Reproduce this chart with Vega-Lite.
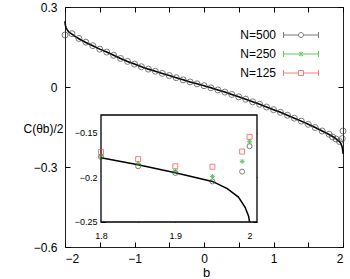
{
  "$schema": "https://vega.github.io/schema/vega-lite/v6.json",
  "width": 278,
  "height": 240,
  "autosize": {"type": "none"},
  "padding": {"left": 65, "top": 7, "right": 7, "bottom": 32},
  "config": {
    "font": "Liberation Sans",
    "view": {"stroke": "#222", "strokeWidth": 1},
    "axis": {"grid": false, "domain": false, "labelFont": "Liberation Sans", "labelColor": "#000", "tickColor": "#000", "titleFont": "Liberation Sans", "titleFontWeight": "normal", "titleColor": "#000"}
  },
  "datasets": {
    "curve": [
      {"b": -2.0, "c": 0.247}, {"b": -1.9987, "c": 0.240}, {"b": -1.994, "c": 0.231}, {"b": -1.985, "c": 0.223},
      {"b": -1.97, "c": 0.215}, {"b": -1.95, "c": 0.207}, {"b": -1.9, "c": 0.198}, {"b": -1.85, "c": 0.189},
      {"b": -1.8, "c": 0.181}, {"b": -1.7, "c": 0.167}, {"b": -1.6, "c": 0.155}, {"b": -1.5, "c": 0.142},
      {"b": -1.4, "c": 0.131}, {"b": -1.3, "c": 0.119}, {"b": -1.2, "c": 0.107}, {"b": -1.1, "c": 0.096},
      {"b": -1.0, "c": 0.086}, {"b": -0.9, "c": 0.076}, {"b": -0.8, "c": 0.067}, {"b": -0.7, "c": 0.059},
      {"b": -0.6, "c": 0.051}, {"b": -0.5, "c": 0.043}, {"b": -0.4, "c": 0.035}, {"b": -0.3, "c": 0.027},
      {"b": -0.2, "c": 0.019}, {"b": -0.1, "c": 0.012}, {"b": 0.0, "c": 0.005}, {"b": 0.1, "c": -0.003},
      {"b": 0.2, "c": -0.011}, {"b": 0.3, "c": -0.019}, {"b": 0.4, "c": -0.028}, {"b": 0.5, "c": -0.037},
      {"b": 0.6, "c": -0.046}, {"b": 0.7, "c": -0.0555}, {"b": 0.8, "c": -0.065}, {"b": 0.9, "c": -0.075},
      {"b": 1.0, "c": -0.085}, {"b": 1.1, "c": -0.095}, {"b": 1.2, "c": -0.106}, {"b": 1.3, "c": -0.117},
      {"b": 1.4, "c": -0.128}, {"b": 1.5, "c": -0.140}, {"b": 1.6, "c": -0.152}, {"b": 1.7, "c": -0.165},
      {"b": 1.8, "c": -0.178}, {"b": 1.85, "c": -0.1858}, {"b": 1.9, "c": -0.1948}, {"b": 1.95, "c": -0.2045},
      {"b": 1.97, "c": -0.2125}, {"b": 1.985, "c": -0.222}, {"b": 1.994, "c": -0.2335}, {"b": 1.9987, "c": -0.2435},
      {"b": 2.0, "c": -0.25}
    ],
    "sim": [
      {"series": "N=500", "b": -2.0, "c": 0.195}, {"series": "N=500", "b": -1.9, "c": 0.200},
      {"series": "N=500", "b": -1.8, "c": 0.182}, {"series": "N=500", "b": -1.7, "c": 0.168},
      {"series": "N=500", "b": -1.6, "c": 0.155}, {"series": "N=500", "b": -1.5, "c": 0.142},
      {"series": "N=500", "b": -1.4, "c": 0.131}, {"series": "N=500", "b": -1.3, "c": 0.119},
      {"series": "N=500", "b": -1.2, "c": 0.107}, {"series": "N=500", "b": -1.1, "c": 0.096},
      {"series": "N=500", "b": -1.0, "c": 0.086}, {"series": "N=500", "b": -0.9, "c": 0.076},
      {"series": "N=500", "b": -0.8, "c": 0.067}, {"series": "N=500", "b": -0.7, "c": 0.059},
      {"series": "N=500", "b": -0.6, "c": 0.051}, {"series": "N=500", "b": -0.5, "c": 0.043},
      {"series": "N=500", "b": -0.4, "c": 0.035}, {"series": "N=500", "b": -0.3, "c": 0.027},
      {"series": "N=500", "b": -0.2, "c": 0.019}, {"series": "N=500", "b": -0.1, "c": 0.012},
      {"series": "N=500", "b": 0.0, "c": 0.005}, {"series": "N=500", "b": 0.1, "c": -0.003},
      {"series": "N=500", "b": 0.2, "c": -0.011}, {"series": "N=500", "b": 0.3, "c": -0.019},
      {"series": "N=500", "b": 0.4, "c": -0.028}, {"series": "N=500", "b": 0.5, "c": -0.037},
      {"series": "N=500", "b": 0.6, "c": -0.046}, {"series": "N=500", "b": 0.7, "c": -0.0555},
      {"series": "N=500", "b": 0.8, "c": -0.065}, {"series": "N=500", "b": 0.9, "c": -0.075},
      {"series": "N=500", "b": 1.0, "c": -0.085}, {"series": "N=500", "b": 1.1, "c": -0.095},
      {"series": "N=500", "b": 1.2, "c": -0.106}, {"series": "N=500", "b": 1.3, "c": -0.117},
      {"series": "N=500", "b": 1.4, "c": -0.128}, {"series": "N=500", "b": 1.5, "c": -0.140},
      {"series": "N=500", "b": 1.6, "c": -0.152}, {"series": "N=500", "b": 1.7, "c": -0.165},
      {"series": "N=500", "b": 1.8, "c": -0.177}, {"series": "N=500", "b": 1.85, "c": -0.1875},
      {"series": "N=500", "b": 1.9, "c": -0.195}, {"series": "N=500", "b": 1.95, "c": -0.2045},
      {"series": "N=500", "b": 1.99, "c": -0.1935}, {"series": "N=500", "b": 2.0, "c": -0.165},
      {"series": "N=250", "b": 1.8, "c": -0.176}, {"series": "N=250", "b": 1.85, "c": -0.1844},
      {"series": "N=250", "b": 1.9, "c": -0.193}, {"series": "N=250", "b": 1.95, "c": -0.1989},
      {"series": "N=250", "b": 1.99, "c": -0.182}, {"series": "N=250", "b": 2.0, "c": -0.160},
      {"series": "N=125", "b": 1.8, "c": -0.1716}, {"series": "N=125", "b": 1.85, "c": -0.1795},
      {"series": "N=125", "b": 1.9, "c": -0.1875}, {"series": "N=125", "b": 1.95, "c": -0.188},
      {"series": "N=125", "b": 1.99, "c": -0.171}, {"series": "N=125", "b": 2.0, "c": -0.1545}
    ]
  },
  "layer": [
    {
      "layer": [
        {
          "data": {"name": "curve"},
          "mark": {"type": "line", "color": "#000", "strokeWidth": 1.6},
          "encoding": {
            "x": {"field": "b", "type": "quantitative", "scale": {"domain": [-2, 2], "nice": false, "zero": false},
              "axis": {"orient": "bottom", "values": [-2, -1.5, -1, -0.5, 0, 0.5, 1, 1.5, 2], "labelExpr": "datum.value % 1 == 0 ? format(datum.value, 'd') : ''", "tickSize": -5, "labelPadding": 11, "labelFontSize": 12, "title": "b", "titleFontSize": 13, "titleX": 141, "titleY": 29, "titleBaseline": "alphabetic", "titleAnchor": null}},
            "y": {"field": "c", "type": "quantitative", "scale": {"domain": [-0.6, 0.3], "nice": false, "zero": false},
              "axis": {"orient": "left", "values": [-0.6, -0.3, 0, 0.3], "labelExpr": "datum.value == 0 ? '0' : format(datum.value, '.1f')", "tickSize": -5, "labelPadding": 13, "labelFontSize": 12, "title": "C(θb)/2", "titleFontSize": 12, "titleAngle": 0, "titleAlign": "right", "titleBaseline": "middle", "titleX": -2, "titleY": 121}}
          }
        },
        {
          "data": {"name": "sim"},
          "transform": [{"filter": "datum.series == 'N=500'"}],
          "mark": {"type": "point", "shape": "circle", "filled": false, "color": "#444", "strokeWidth": 1, "size": 36},
          "encoding": {
            "x": {"field": "b", "type": "quantitative", "scale": {"domain": [-2, 2], "nice": false, "zero": false},
              "axis": {"orient": "top", "values": [-2, -1.5, -1, -0.5, 0, 0.5, 1, 1.5, 2], "labels": false, "tickSize": -5, "title": null}},
            "y": {"field": "c", "type": "quantitative", "scale": {"domain": [-0.6, 0.3], "nice": false, "zero": false},
              "axis": {"orient": "right", "values": [-0.6, -0.3, 0, 0.3], "labels": false, "tickSize": -5, "title": null}}
          }
        },
        {
          "data": {"name": "sim"},
          "transform": [{"filter": "datum.b > 10"}],
          "mark": {"type": "point", "filled": false, "strokeWidth": 1},
          "encoding": {
            "x": {"field": "b", "type": "quantitative", "scale": {"domain": [-2, 2], "nice": false, "zero": false}, "axis": null},
            "y": {"field": "c", "type": "quantitative", "scale": {"domain": [-0.6, 0.3], "nice": false, "zero": false}, "axis": null},
            "color": {"field": "series", "type": "nominal",
              "scale": {"domain": ["N=500", "N=250", "N=125"], "range": ["#444444", "#22b022", "#f04848"]},
              "legend": {"title": null, "orient": "none", "legendX": 230, "legendY": 22, "symbolSize": 100, "symbolStrokeWidth": 1, "labelAlign": "right", "labelOffset": -31, "labelFontSize": 12, "labelFont": "Liberation Sans", "labelColor": "#000", "rowPadding": 7, "padding": 0}},
            "shape": {"field": "series", "type": "nominal",
              "scale": {"domain": ["N=500", "N=250", "N=125"], "range": [
                "M-3.5,0H-0.5M0.5,0H3.5M-3.5,-0.6V0.6M3.5,-0.6V0.6M-0.5,0A0.5,0.5,0,1,0,0.5,0A0.5,0.5,0,1,0,-0.5,0",
                "M-3.5,0H3.5M-3.5,-0.6V0.6M3.5,-0.6V0.6M0,-0.5V0.5M-0.4,-0.4L0.4,0.4M-0.4,0.4L0.4,-0.4",
                "M-3.5,0H-0.5M0.5,0H3.5M-3.5,-0.6V0.6M3.5,-0.6V0.6M-0.5,-0.5H0.5V0.5H-0.5Z"]},
              "legend": {"title": null, "orient": "none", "legendX": 230, "legendY": 22, "symbolSize": 100, "symbolStrokeWidth": 1, "labelAlign": "right", "labelOffset": -31, "labelFontSize": 12, "labelFont": "Liberation Sans", "labelColor": "#000", "rowPadding": 7, "padding": 0}}
          }
        }
      ],
      "resolve": {"axis": {"x": "independent", "y": "independent"}}
    },
    {
      "layer": [
        {
          "data": {"values": [{}]},
          "mark": {"type": "rect", "fill": "#fff", "stroke": "#000", "strokeWidth": 1.3},
          "encoding": {
            "x": {"datum": 1.8, "type": "quantitative", "scale": {"domain": [1.75154, 2.12577], "nice": false, "zero": false},
              "axis": {"orient": "bottom", "offset": -25, "values": [1.8, 1.85, 1.9, 1.95, 2], "labelExpr": "datum.value == 2 ? '2' : (round(datum.value * 100) % 10 == 0 ? format(datum.value, '.1f') : '')", "tickSize": -4, "labelPadding": 13, "labelFontSize": 9, "title": null}},
            "x2": {"datum": 2.01},
            "y": {"datum": -0.25, "type": "quantitative", "scale": {"domain": [-0.27804, -0.00888], "nice": false, "zero": false},
              "axis": {"orient": "left", "offset": -36, "values": [-0.25, -0.2, -0.15], "labelExpr": "format(datum.value, '.2~f')", "tickSize": -4, "labelPadding": 8, "labelFontSize": 9, "title": null}},
            "y2": {"datum": -0.13}
          }
        },
        {
          "data": {"name": "curve"},
          "transform": [{"filter": "datum.b >= 1.8"}],
          "mark": {"type": "line", "color": "#000", "strokeWidth": 1.5},
          "encoding": {
            "x": {"field": "b", "type": "quantitative", "scale": {"domain": [1.75154, 2.12577], "nice": false, "zero": false},
              "axis": {"orient": "top", "offset": -108, "values": [1.8, 1.85, 1.9, 1.95, 2], "labels": false, "tickSize": -4, "title": null}},
            "y": {"field": "c", "type": "quantitative", "scale": {"domain": [-0.27804, -0.00888], "nice": false, "zero": false},
              "axis": {"orient": "right", "offset": -86, "values": [-0.25, -0.2, -0.15], "labels": false, "tickSize": -4, "title": null}}
          }
        },
        {
          "data": {"name": "sim"},
          "transform": [{"filter": "datum.b >= 1.8"}],
          "mark": {"type": "point", "filled": false, "strokeWidth": 1, "size": 25},
          "encoding": {
            "x": {"field": "b", "type": "quantitative", "scale": {"domain": [1.75154, 2.12577], "nice": false, "zero": false}, "axis": null},
            "y": {"field": "c", "type": "quantitative", "scale": {"domain": [-0.27804, -0.00888], "nice": false, "zero": false}, "axis": null},
            "color": {"field": "series", "type": "nominal",
              "scale": {"domain": ["N=500", "N=250", "N=125"], "range": ["#444444", "#22b022", "#f04848"]}, "legend": null},
            "shape": {"field": "series", "type": "nominal",
              "scale": {"domain": ["N=500", "N=250", "N=125"], "range": ["circle", "M-1,0H1M0,-1V1M-0.7,-0.7L0.7,0.7M-0.7,0.7L0.7,-0.7", "square"]}, "legend": null}
          }
        }
      ],
      "resolve": {"axis": {"x": "independent", "y": "independent"}}
    }
  ],
  "resolve": {
    "scale": {"x": "independent", "y": "independent", "color": "independent", "shape": "independent"},
    "axis": {"x": "independent", "y": "independent"}
  }
}
